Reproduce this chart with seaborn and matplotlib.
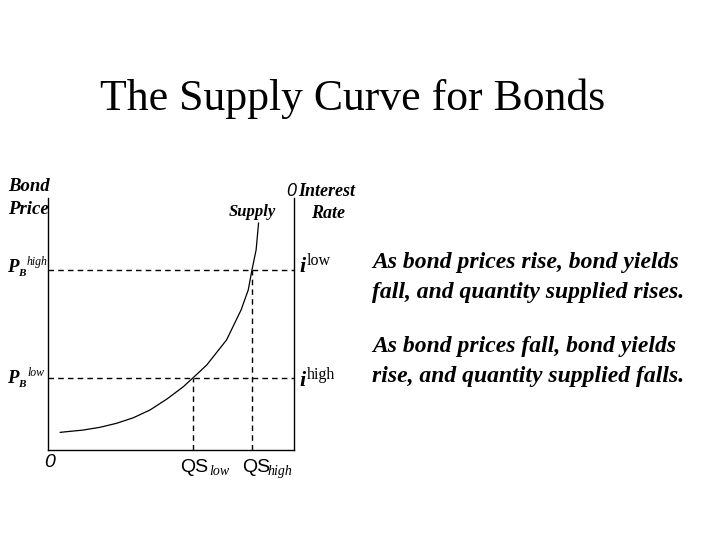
import numpy as np
import pandas as pd
import matplotlib
matplotlib.use('Agg')
import matplotlib.pyplot as plt
import seaborn as sns

sns.set_style('white')
plt.rcParams['font.family'] = ['Liberation Serif', 'DejaVu Serif']
plt.rcParams['text.color'] = 'black'

# supply curve (quantity, price), axes run 0..10
curve_q = [0.49, 1.42, 2.11, 2.79, 3.47, 4.15, 4.83, 5.50, 5.89,
           6.45, 7.26, 7.85, 8.14, 8.29, 8.46, 8.56]
curve_p = [0.70, 0.79, 0.90, 1.06, 1.28, 1.59, 2.02, 2.51, 2.86,
           3.37, 4.37, 5.56, 6.35, 7.14, 7.94, 9.01]

price_levels = [7.14, 2.86]      # PB high, PB low
quantity_levels = [8.29, 5.89]   # QS high, QS low

explanations = [
    ['As bond prices rise, bond yields', 'fall, and quantity supplied rises.'],
    ['As bond prices fall, bond yields', 'rise, and quantity supplied falls.'],
]

df = pd.DataFrame({'quantity': curve_q, 'price': curve_p})

fig = plt.figure(figsize=(7.2, 5.4), dpi=100)
ax = fig.add_axes([48 / 720, 90 / 540, 246 / 720, 252 / 540])

sns.lineplot(data=df, x='quantity', y='price', color='black', lw=0.9,
             sort=False, ax=ax)

ax.hlines(price_levels, 0, 10, colors='black', linestyles=(0, (4, 3)), lw=1)
ax.vlines(quantity_levels, 0, price_levels, colors='black',
          linestyles=(0, (4, 3)), lw=1)

ax.set_xlim(0, 10)
ax.set_ylim(0, 10)
ax.set_xticks([])
ax.set_yticks([])
ax.set_xlabel('')
ax.set_ylabel('')
ax.spines['top'].set_visible(False)
for s in ['left', 'right', 'bottom']:
    ax.spines[s].set_color('black')
    ax.spines[s].set_linewidth(1)


def put(x, y, s, **kw):
    kw.setdefault('va', 'baseline')
    fig.text(x / 720, 1 - y / 540, s, **kw)


bi = dict(fontweight='bold', fontstyle='italic')

put(353, 110, 'The Supply Curve for Bonds', fontsize=31.5, ha='center')

put(8, 191, 'Bond', fontsize=13.5, **bi)
put(8, 214, 'Price', fontsize=13.5, **bi)
put(229, 216, 'Supply', fontsize=12, **bi)
put(286, 196, '0', fontsize=13, fontstyle='italic', family='Liberation Sans')
put(298, 196, 'Interest', fontsize=13, **bi)
put(311, 218, 'Rate', fontsize=13, **bi)

# price labels on the left
for y, sup in [(272, 'high'), (383, 'low')]:
    put(7, y, 'P', fontsize=13.5, **bi)
    put(18, y + 4, 'B', fontsize=8, **bi)
    put(27, y - 7, sup, fontsize=8.5, fontstyle='italic')

# interest rate labels on the right
for y, sup in [(272, 'low'), (386, 'high')]:
    put(299, y, 'i', fontsize=16, **bi)
    put(307, y - 7, sup, fontsize=11.5)

put(44, 467, '0', fontsize=14, fontstyle='italic', family='Liberation Sans')
put(180, 472, 'QS', fontsize=14, family='Liberation Sans')
put(209, 475, 'low', fontsize=10, fontstyle='italic')
put(242, 472, 'QS', fontsize=14, family='Liberation Sans')
put(268, 475, 'high', fontsize=10, fontstyle='italic')

for y0, lines in zip([268, 352], explanations):
    for k, line in enumerate(lines):
        put(372, y0 + 30 * k, line, fontsize=17, **bi)

fig.savefig('out.png', dpi=100)
